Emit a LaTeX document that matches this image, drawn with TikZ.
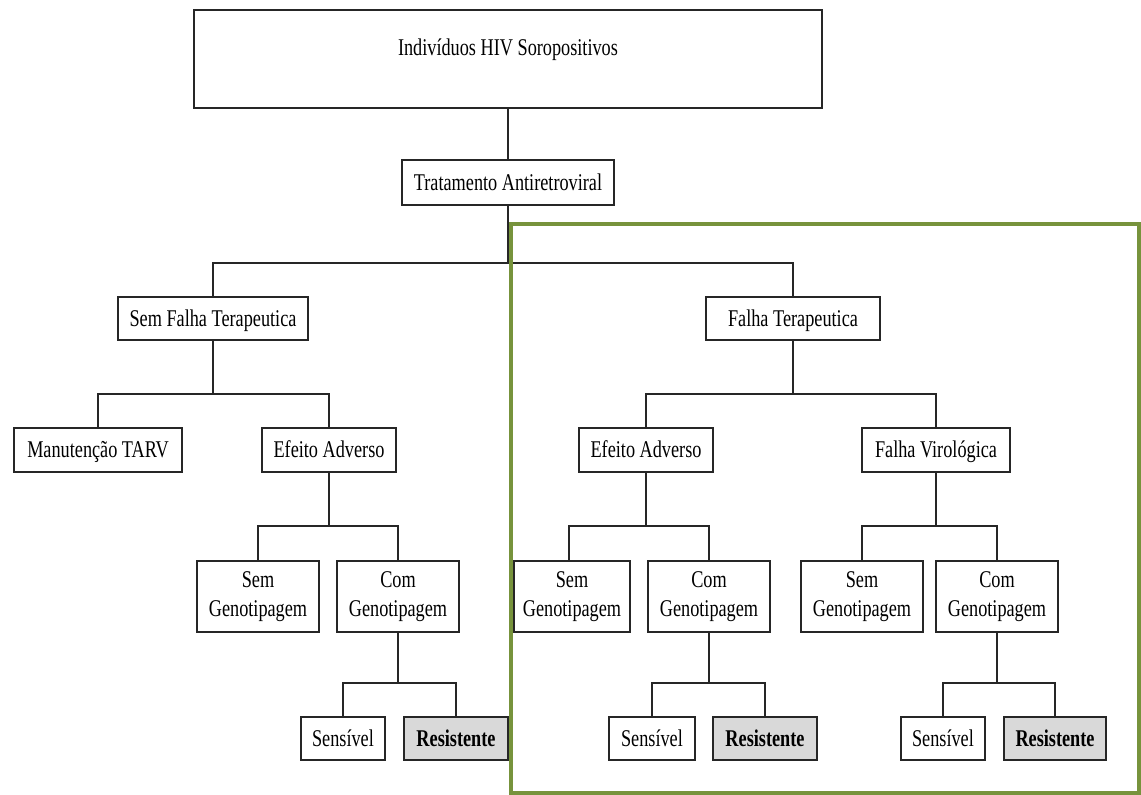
\documentclass[tikz,border=0pt]{standalone}
\usepackage{fontspec}
\setmainfont{Liberation Serif}[FakeStretch=0.76]
\definecolor{frameolive}{HTML}{77933C}
\definecolor{leafgrey}{HTML}{D9D9D9}
\begin{document}
\begin{tikzpicture}[x=1pt,y=-1pt,
  box/.style={draw=black!85, line width=1.8pt, fill=white, inner sep=0pt,
    align=center, font=\fontsize{24}{29}\selectfont},
  one/.style={text height=17pt, text depth=2pt},
  resbox/.style={box, one, fill=leafgrey, font=\fontsize{24}{29}\selectfont\bfseries},
  link/.style={draw=black!85, line width=1.8pt},
  frame/.style={draw=frameolive, line width=4pt}]
\useasboundingbox (0,0) rectangle (1141,795);

% root and treatment
\node[box, minimum width=628pt, minimum height=98pt, text height=17pt, text depth=24pt] (ind) at (508,59) {Indivíduos HIV Soropositivos};
\node[box, one, minimum width=212pt, minimum height=45pt] (trat) at (508,182.5) {Tratamento Antiretroviral};

% second level
\node[box, one, minimum width=190pt, minimum height=43pt] (semF) at (213,318.5) {Sem Falha Terapeutica};
\node[box, one, minimum width=174pt, minimum height=43pt] (falha) at (793,318.5) {Falha Terapeutica};

% third level
\node[box, one, minimum width=168pt, minimum height=44pt] (manut) at (98,450) {Manutenção TARV};
\node[box, one, minimum width=134pt, minimum height=44pt] (efL) at (329,450) {Efeito Adverso};
\node[box, one, minimum width=134pt, minimum height=44pt] (efR) at (646,450) {Efeito Adverso};
\node[box, one, minimum width=148pt, minimum height=44pt] (fvir) at (936,450) {Falha Virológica};

% genotyping level
\node[box, minimum width=122pt, minimum height=71pt] (semGL) at (258,596.5) {Sem\\Genotipagem};
\node[box, minimum width=122pt, minimum height=71pt] (comGL) at (398,596.5) {Com\\Genotipagem};
\node[box, minimum width=116pt, minimum height=71pt] (semGM) at (572,596.5) {Sem\\Genotipagem};
\node[box, minimum width=122pt, minimum height=71pt] (comGM) at (709,596.5) {Com\\Genotipagem};
\node[box, minimum width=122pt, minimum height=71pt] (semGR) at (862,596.5) {Sem\\Genotipagem};
\node[box, minimum width=122pt, minimum height=71pt] (comGR) at (997,596.5) {Com\\Genotipagem};

% susceptibility level
\node[box, one, minimum width=84pt, minimum height=43pt] (sensL) at (343,738.5) {Sensível};
\node[resbox, minimum width=104pt, minimum height=43pt] (resL) at (456,738.5) {Resistente};
\node[box, one, minimum width=86pt, minimum height=43pt] (sensM) at (652,738.5) {Sensível};
\node[resbox, minimum width=104pt, minimum height=43pt] (resM) at (765,738.5) {Resistente};
\node[box, one, minimum width=84pt, minimum height=43pt] (sensR) at (943,738.5) {Sensível};
\node[resbox, minimum width=102pt, minimum height=43pt] (resR) at (1055,738.5) {Resistente};

% connectors
\draw[link] (ind.south) -- (trat.north);
\draw[link] (trat.south) -- ++(0,57) coordinate (b0);
\draw[link] (b0) -| (semF.north);
\draw[link] (b0) -| (falha.north);

\draw[link] (semF.south) -- ++(0,53) coordinate (b1);
\draw[link] (b1) -| (manut.north);
\draw[link] (b1) -| (efL.north);

\draw[link] (falha.south) -- ++(0,53) coordinate (b2);
\draw[link] (b2) -| (efR.north);
\draw[link] (b2) -| (fvir.north);

\draw[link] (efL.south) -- ++(0,53) coordinate (b3);
\draw[link] (b3) -| (semGL.north);
\draw[link] (b3) -| (comGL.north);

\draw[link] (efR.south) -- ++(0,53) coordinate (b4);
\draw[link] (b4) -| ([xshift=-3pt]semGM.north);
\draw[link] (b4) -| (comGM.north);

\draw[link] (fvir.south) -- ++(0,53) coordinate (b5);
\draw[link] (b5) -| (semGR.north);
\draw[link] (b5) -| (comGR.north);

\draw[link] (comGL.south) -- ++(0,50) coordinate (b6);
\draw[link] (b6) -| (sensL.north);
\draw[link] (b6) -| (resL.north);

\draw[link] (comGM.south) -- ++(0,50) coordinate (b7);
\draw[link] (b7) -| (sensM.north);
\draw[link] (b7) -| (resM.north);

\draw[link] (comGR.south) -- ++(0,50) coordinate (b8);
\draw[link] (b8) -| (sensR.north);
\draw[link] (b8) -| (resR.north);

% highlight frame around the therapeutic-failure branch
\draw[frame] (511,224) rectangle (1139,793);
\end{tikzpicture}
\end{document}
